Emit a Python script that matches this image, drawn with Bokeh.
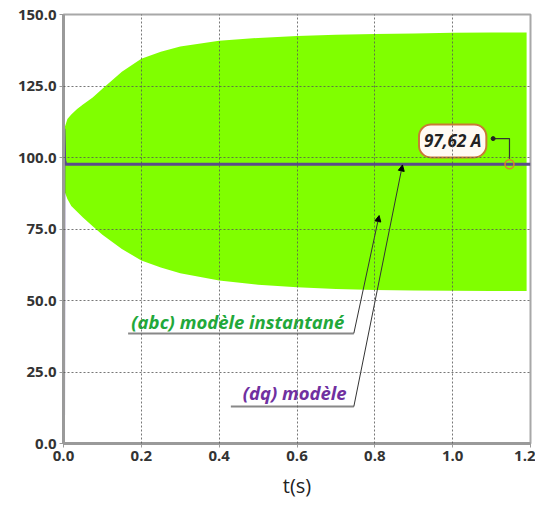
from bokeh.plotting import figure
from bokeh.models import (Range1d, FixedTicker, NumeralTickFormatter, Label, Arrow,
                          NormalHead)
from bokeh.embed import file_html
from bokeh.resources import INLINE

# ---- data ----
t_env = [0.0, 0.003, 0.01, 0.02, 0.035, 0.05, 0.075, 0.1, 0.15, 0.2, 0.25, 0.3,
         0.4, 0.5, 0.6, 0.7, 0.8, 0.9, 1.0, 1.1, 1.19]
upper_env = [105.0, 110.5, 113.5, 115.0, 117.0, 118.5, 121.0, 124.0, 130.0, 134.5,
             137.0, 138.8, 140.8, 141.8, 142.5, 142.9, 143.2, 143.4, 143.6, 143.7, 143.7]
lower_env = [92.0, 88.0, 85.5, 83.0, 81.0, 79.0, 76.0, 73.0, 68.0, 64.0, 61.5, 59.5,
             57.0, 55.5, 54.6, 54.0, 53.7, 53.5, 53.4, 53.3, 53.3]

t_dq = [0.0, 0.001, 0.003, 0.006, 1.2]
i_dq = [0.0, 110.0, 99.0, 97.62, 97.62]

steady_value = 97.62
x_ticks = [0.0, 0.2, 0.4, 0.6, 0.8, 1.0, 1.2]
y_ticks = [0.0, 25.0, 50.0, 75.0, 100.0, 125.0, 150.0]

label_abc = "(abc) modèle instantané"
label_dq = "(dq) modèle"
callout_text = "97,62 A"

p = figure(output_backend="svg", toolbar_location=None,
           width=535, height=503,
           min_border_left=63, min_border_top=14, min_border_right=5,
           min_border_bottom=60,
           x_range=Range1d(0, 1.2), y_range=Range1d(0, 150))

p.background_fill_color = "white"
p.border_fill_color = "white"
p.outline_line_color = "#a8a8a8"
p.outline_line_width = 2

# envelope of the instantaneous (abc) current
p.varea(x=t_env, y1=lower_env, y2=upper_env, fill_color="#80ff00")

# dq model current
p.line(t_dq, i_dq, line_color="#5c4b8b", line_width=3)

# axes
for ax in (p.xaxis[0], p.yaxis[0]):
    ax.axis_line_color = "#9a9a9a"
    ax.axis_line_width = 3
    ax.major_tick_line_color = "#9a9a9a"
    ax.major_tick_out = 4
    ax.major_tick_in = 0
    ax.minor_tick_line_color = None
    ax.major_label_text_font = "Open Sans"
    ax.major_label_text_font_style = "bold"
    ax.major_label_text_font_size = "15px"
    ax.major_label_text_color = "#333333"
    ax.major_label_standoff = 3

p.xaxis.ticker = FixedTicker(ticks=x_ticks)
p.yaxis.ticker = FixedTicker(ticks=y_ticks)
p.xaxis.formatter = NumeralTickFormatter(format="0.0")
p.yaxis.formatter = NumeralTickFormatter(format="0.0")
p.xaxis.axis_label = "t(s)"
p.xaxis.axis_label_text_font = "Open Sans"
p.xaxis.axis_label_text_font_style = "normal"
p.xaxis.axis_label_text_font_size = "20px"
p.xaxis.axis_label_text_color = "#222222"
p.xaxis.axis_label_standoff = 8

p.xgrid.grid_line_color = "#555555"
p.ygrid.grid_line_color = "#555555"
p.xgrid.grid_line_alpha = 0.8
p.ygrid.grid_line_alpha = 0.8
p.xgrid.grid_line_dash = "2 2"
p.ygrid.grid_line_dash = "2 2"
p.xgrid.level = "overlay"
p.ygrid.level = "overlay"

# callout for steady value
p.line([1.104, 1.146, 1.146], [106.6, 106.6, 99.6], line_color="#333333", line_width=1.2)
p.scatter([1.104], [106.6], size=4, color="#222222")
p.scatter([1.146], [steady_value], size=9, marker="circle", fill_color=None,
          line_color="#d9822b", line_width=1.5)
p.add_layout(Label(x=1.0, y=105.8, text=callout_text, text_align="center",
                   text_baseline="middle", text_font="Open Sans",
                   text_font_style="bold italic", text_font_size="17px",
                   text_color="#222222", background_fill_color="#fffaf3",
                   border_line_color="#c97a35", border_line_width=2,
                   border_radius=12, padding=5))

# label connectors
p.line([0.166, 0.746], [38.5, 38.5], line_color="#888888", line_width=2)
p.add_layout(Arrow(end=NormalHead(size=6, fill_color="black", line_color="black"),
                   x_start=0.746, y_start=38.5, x_end=0.811, y_end=79.7,
                   line_color="#333333", line_width=1))
p.line([0.43, 0.746], [12.9, 12.9], line_color="#888888", line_width=2)
p.add_layout(Arrow(end=NormalHead(size=6, fill_color="black", line_color="black"),
                   x_start=0.746, y_start=12.9, x_end=0.871, y_end=97.4,
                   line_color="#333333", line_width=1))

p.add_layout(Label(x=0.448, y=42.6, text=label_abc, text_align="center",
                   text_baseline="middle", text_font="Open Sans",
                   text_font_style="bold italic", text_font_size="18.5px",
                   text_color="#22a83a"))
p.add_layout(Label(x=0.594, y=17.8, text=label_dq, text_align="center",
                   text_baseline="middle", text_font="Open Sans",
                   text_font_style="bold italic", text_font_size="18.5px",
                   text_color="#7030a0"))

open("out.html", "w").write(file_html(p, INLINE))
